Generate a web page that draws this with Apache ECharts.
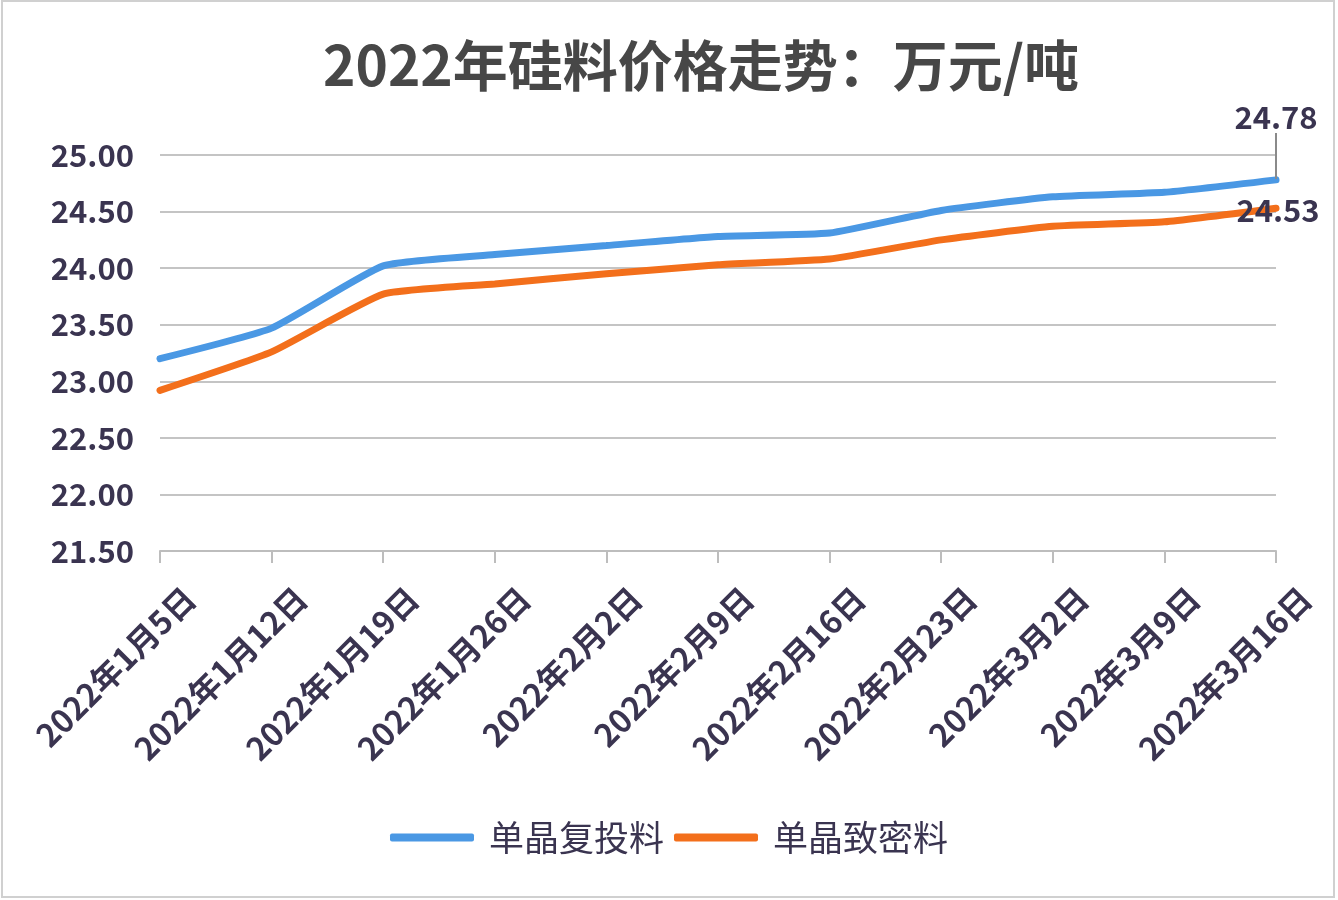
<!DOCTYPE html>
<html>
<head>
<meta charset="utf-8">
<script src="https://cdn.jsdelivr.net/npm/echarts@6/dist/echarts.min.js"></script>
<style>html,body{margin:0;padding:0;background:#fff}#c{width:1338px;height:900px}</style>
</head>
<body>
<div id="c"></div>
<script>
var categories = ['2022年1月5日','2022年1月12日','2022年1月19日','2022年1月26日','2022年2月2日','2022年2月9日','2022年2月16日','2022年2月23日','2022年3月2日','2022年3月9日','2022年3月16日'];
var seriesNames = ['单晶复投料','单晶致密料'];
var fuTou = [23.20, 23.47, 24.02, 24.12, 24.20, 24.28, 24.31, 24.51, 24.63, 24.67, 24.78];
var zhiMi = [22.92, 23.26, 23.77, 23.86, 23.95, 24.03, 24.08, 24.25, 24.37, 24.41, 24.53];

var labelColor = '#3a3450';
var font = '"Noto Sans CJK SC", "Noto Sans", sans-serif';
function withLastLabel(arr) {
  return arr.map(function (v, i) {
    return i === arr.length - 1 ? { value: v, label: { show: true } } : v;
  });
}
var chart = echarts.init(document.getElementById('c'));
chart.setOption({
  backgroundColor: '#fff',
  animation: false,
  graphic: [{ type: 'rect', shape: { x: 2, y: 1, width: 1332, height: 896 }, style: { fill: 'none', stroke: '#d0d0d0', lineWidth: 2 } }],
  title: {
    text: '2022年硅料价格走势：万元/吨',
    left: 318, top: 33,
    textStyle: { fontSize: 55, fontWeight: 'bold', color: '#474747', fontFamily: font }
  },
  legend: {
    bottom: 40, left: 'center',
    itemWidth: 84, itemHeight: 8, itemGap: 10,
    icon: 'roundRect',
    textStyle: { fontSize: 35, color: labelColor, fontFamily: font, padding: [0, 0, 0, 10] }
  },
  grid: { left: 160, right: 62, top: 155, bottom: 349 },
  xAxis: {
    type: 'category', data: categories, boundaryGap: false,
    axisLine: { lineStyle: { color: '#bdbdbd', width: 2 } },
    axisTick: { show: true, length: 12, lineStyle: { color: '#bdbdbd', width: 2 } },
    axisLabel: { rotate: 45, fontSize: 32, fontWeight: 'bold', color: labelColor, fontFamily: font,
      margin: 12, interval: 0, verticalAlign: 'top', padding: [26, 0, 0, 0] }
  },
  yAxis: {
    type: 'value', min: 21.5, max: 25, interval: 0.5,
    axisLine: { show: false }, axisTick: { show: false },
    splitLine: { lineStyle: { color: '#c4c4c4', width: 2 } },
    axisLabel: { fontSize: 31, fontWeight: 'bold', color: labelColor, fontFamily: font, margin: 26,
      formatter: function (v) { return v.toFixed(2); } }
  },
  series: [
    {
      name: seriesNames[0], type: 'line', data: withLastLabel(fuTou), smooth: 0.15,
      showSymbol: true, symbol: 'circle', symbolSize: 2,
      lineStyle: { width: 7, color: '#4a98e4', cap: 'round' }, itemStyle: { color: '#4a98e4' },
      label: { show: false, position: 'top', distance: 6, fontSize: 31, fontWeight: 'bold', color: labelColor, fontFamily: font,
        formatter: function (p) { return p.value.toFixed(2); } },
      labelLayout: function (p) { return { dy: -40 }; },
      labelLine: { show: true, lineStyle: { color: '#8a8a8a', width: 2 } }
    },
    {
      name: seriesNames[1], type: 'line', data: withLastLabel(zhiMi), smooth: 0.15,
      showSymbol: true, symbol: 'circle', symbolSize: 2,
      lineStyle: { width: 7, color: '#f36f1b', cap: 'round' }, itemStyle: { color: '#f36f1b' },
      label: { show: false, position: 'inside', offset: [2, 2], fontSize: 31, fontWeight: 'bold', color: labelColor, fontFamily: font,
        formatter: function (p) { return p.value.toFixed(2); } }
    }
  ]
});
</script>
</body>
</html>
